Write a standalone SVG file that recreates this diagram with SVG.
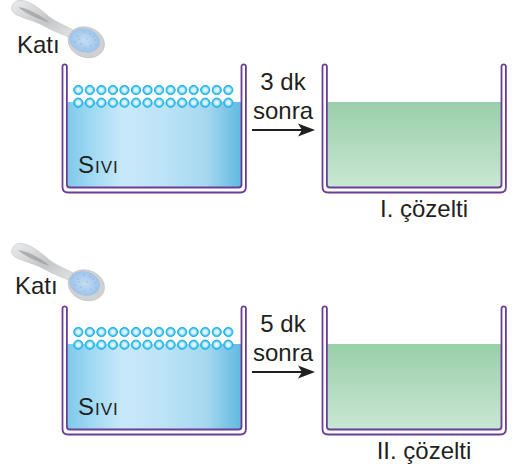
<svg xmlns="http://www.w3.org/2000/svg" width="515" height="468" viewBox="0 0 515 468">
<style>
text{font-family:"Liberation Sans",Arial,sans-serif;font-size:24px;fill:#231f20}
.c{text-anchor:middle}
.sv{font-size:24px;font-variant:small-caps;letter-spacing:1px}
.b{fill:none;stroke:#6a3d98;stroke-width:1.8;stroke-linejoin:round}
.a{fill:none;stroke:#231f20;stroke-width:2}
.bu{stroke:#1fb3e8;stroke-width:1}
</style>
<defs>
<linearGradient id="w" x1="0" x2="1" y1="0" y2="0"><stop offset="0" stop-color="#80c9ea"/><stop offset=".17" stop-color="#a6dcf4"/><stop offset=".32" stop-color="#c9e9fa"/><stop offset=".55" stop-color="#bde3f6"/><stop offset=".8" stop-color="#a5d8f0"/><stop offset="1" stop-color="#62b9e0"/></linearGradient>
<linearGradient id="g" x1="0" x2="0" y1="0" y2="1"><stop offset="0" stop-color="#99cfa9"/><stop offset="1" stop-color="#c9e7d3"/></linearGradient>
<linearGradient id="s" x1="0" x2="1" y1="0" y2="1"><stop offset="0" stop-color="#ecedee"/><stop offset=".55" stop-color="#c4c6c8"/><stop offset="1" stop-color="#e4e5e6"/></linearGradient>
<radialGradient id="bb"><stop offset="0" stop-color="#f2fafd"/><stop offset=".5" stop-color="#c8ecf8"/><stop offset=".8" stop-color="#4cc4ec"/><stop offset="1" stop-color="#1fb3e8"/></radialGradient>
<radialGradient id="sc"><stop offset="0" stop-color="#c6dcf3"/><stop offset="1" stop-color="#9cc3ea"/></radialGradient>
<path id="cup" class="b" d="M62.500 66a2.300 2.300 0 0 1 4.400 0V184.500q0 3 3 3H238.500q3 0 3-3V66a2.300 2.300 0 0 1 4.400 0V187q0 5.500-5.500 5.500H68q-5.500 0-5.500-5.500Z"/>
<g id="dots" class="bu"><circle cx="0" cy="0" r="4.600"/><circle cx="11.540" cy="0" r="4.600"/><circle cx="23.080" cy="0" r="4.600"/><circle cx="34.620" cy="0" r="4.600"/><circle cx="46.150" cy="0" r="4.600"/><circle cx="57.690" cy="0" r="4.600"/><circle cx="69.230" cy="0" r="4.600"/><circle cx="80.770" cy="0" r="4.600"/><circle cx="92.310" cy="0" r="4.600"/><circle cx="103.850" cy="0" r="4.600"/><circle cx="115.380" cy="0" r="4.600"/><circle cx="126.920" cy="0" r="4.600"/><circle cx="138.460" cy="0" r="4.600"/><circle cx="150" cy="0" r="4.600"/></g>
<g id="spoon">
<path fill="url(#s)" stroke="#c9cacc" stroke-width=".8" d="M12 7C13 2 17 0 22 0.500C30 2 38 7 47 15C55 22 64 25 73 30L70 38C64 34 57 33 48 28C38 22 26 19 17 15C13 13 11 10 12 7Z"/>
<path fill="#8f9193" opacity=".6" d="M18 7C28 8 40 15 50 23C42 20 27 15 18 7Z"/>
<ellipse cx="86.300" cy="42.300" rx="18.500" ry="15" transform="rotate(20 86.300 42.300)" fill="#d0d1d3" stroke="#b9bbbd" stroke-width=".6"/>
<ellipse cx="84.700" cy="40.500" rx="15.500" ry="12" transform="rotate(15 84.700 40.500)" fill="url(#sc)"/>
<g fill="#3f7fba"><circle cx="78" cy="36" r=".45"/><circle cx="84" cy="32" r=".45"/><circle cx="90" cy="34" r=".45"/><circle cx="95" cy="40" r=".45"/><circle cx="75" cy="42" r=".45"/><circle cx="81" cy="44" r=".45"/><circle cx="87" cy="39" r=".45"/><circle cx="91" cy="46" r=".45"/><circle cx="85" cy="48" r=".45"/><circle cx="79" cy="39" r=".45"/><circle cx="93" cy="36" r=".45"/><circle cx="96" cy="45" r=".45"/></g>
</g>
</defs>
<g id="connectors">
<g id="arrow1"><path class="a" d="M252 130H305"/><path fill="#231f20" d="M315 130L298 123.500L302 130L298 136.500Z"/></g>
<g id="arrow2"><path class="a" d="M252 372H305"/><path fill="#231f20" d="M315 372L298 365.500L302 372L298 378.500Z"/></g>
</g>
<g id="spoon1"><use href="#spoon"/><text x="17" y="53">Katı</text></g>
<g id="spoon2"><use href="#spoon" y="243"/><text x="15" y="294">Katı</text></g>
<g id="beaker1">
<path fill="url(#w)" d="M67.500 102H241V184.500q0 2.500-2.500 2.500H70q-2.500 0-2.500-2.500Z"/>
<use href="#cup"/>
<use href="#dots" x="78.300" y="90" fill="url(#bb)"/><use href="#dots" x="78.300" y="102.700" fill="url(#bb)"/>
<text class="sv" x="78" y="173">Sıvı</text>
</g>
<g id="beaker2">
<path fill="url(#g)" d="M327.500 102H501V184.500q0 2.500-2.500 2.500H330q-2.500 0-2.500-2.500Z"/>
<use href="#cup" x="260"/>
<text class="c" x="424" y="217">I. çözelti</text>
</g>
<g id="label1"><text class="c" x="283" y="90">3 dk</text><text class="c" x="283" y="119">sonra</text></g>
<g id="beaker3">
<path fill="url(#w)" d="M67.500 344H241V426.500q0 2.500-2.500 2.500H70q-2.500 0-2.500-2.500Z"/>
<use href="#cup" y="242"/>
<use href="#dots" x="78.300" y="332" fill="url(#bb)"/><use href="#dots" x="78.300" y="344.700" fill="url(#bb)"/>
<text class="sv" x="78" y="415">Sıvı</text>
</g>
<g id="beaker4">
<path fill="url(#g)" d="M327.500 344H501V426.500q0 2.500-2.500 2.500H330q-2.500 0-2.500-2.500Z"/>
<use href="#cup" x="260" y="242"/>
<text class="c" x="424" y="459">II. çözelti</text>
</g>
<g id="label2"><text class="c" x="283" y="332">5 dk</text><text class="c" x="283" y="361">sonra</text></g>
</svg>
